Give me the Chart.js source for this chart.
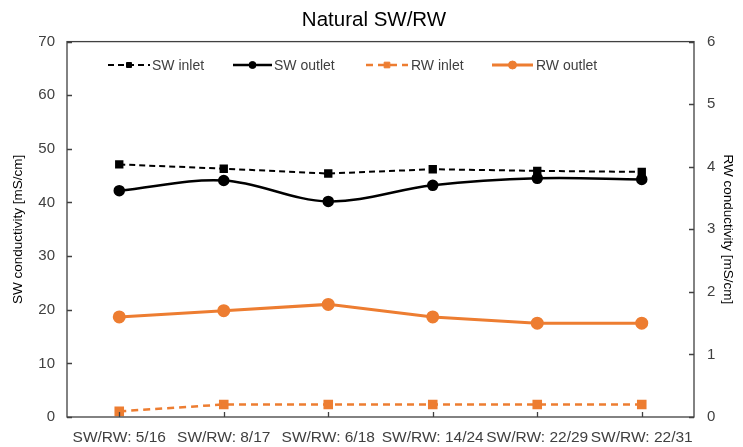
<!DOCTYPE html>
<html>
<head>
<meta charset="utf-8">
<script src="https://cdn.jsdelivr.net/npm/chart.js@4"></script>
<style>
  html, body { margin: 0; padding: 0; background: #fff; }
  #wrap { width: 743px; height: 447px; }
</style>
</head>
<body>
<div id="wrap"><canvas id="chart" width="743" height="447"></canvas></div>
<script>
const categories = ['SW/RW: 5/16', 'SW/RW: 8/17', 'SW/RW: 6/18', 'SW/RW: 14/24', 'SW/RW: 22/29', 'SW/RW: 22/31'];
const swInlet = [47.1, 46.3, 45.4, 46.2, 45.9, 45.7];
const swOutlet = [42.2, 44.1, 40.2, 43.2, 44.5, 44.3];
const rwInlet = [0.09, 0.2, 0.2, 0.2, 0.2, 0.2];
const rwOutlet = [1.6, 1.7, 1.8, 1.6, 1.5, 1.5];
const swTicks = [0, 10, 20, 30, 40, 50, 60, 70];
const rwTicks = [0, 1, 2, 3, 4, 5, 6];

const orange = '#ED7D31';
const textColor = '#404040';
const font = 'Liberation Sans, Arial, sans-serif';

// frame, inward tick marks and a legend drawn inside the plot box
const framePlugin = {
  id: 'frame',
  afterDraw(chart) {
    const ctx = chart.ctx;
    const a = chart.chartArea;
    ctx.save();
    ctx.strokeStyle = '#404040';
    ctx.lineWidth = 1.3;
    ctx.strokeRect(a.left, a.top, a.right - a.left, a.bottom - a.top);
    ctx.beginPath();
    const y1 = chart.scales.y1, y2 = chart.scales.y2, x = chart.scales.x;
    y1.ticks.forEach((t, i) => {
      const py = Math.round(y1.getPixelForTick(i)) + 0.5;
      ctx.moveTo(a.left, py); ctx.lineTo(a.left + 5, py);
    });
    y2.ticks.forEach((t, i) => {
      const py = Math.round(y2.getPixelForTick(i)) + 0.5;
      ctx.moveTo(a.right, py); ctx.lineTo(a.right - 5, py);
    });
    x.ticks.forEach((t, i) => {
      const px = Math.round(x.getPixelForTick(i)) + 0.5;
      ctx.moveTo(px, a.bottom); ctx.lineTo(px, a.bottom - 5);
    });
    ctx.stroke();

    // legend
    const items = [[108, 150, 152], [233, 272, 274], [366, 408, 411], [492, 533, 536]];
    const ly = 65;
    chart.data.datasets.forEach((ds, i) => {
      const [x0, x1, tx] = items[i];
      ctx.beginPath();
      ctx.setLineDash(ds.borderDash || []);
      ctx.strokeStyle = ds.borderColor;
      ctx.lineWidth = ds.borderWidth;
      ctx.moveTo(x0, ly); ctx.lineTo(x1, ly);
      ctx.stroke();
      ctx.setLineDash([]);
      ctx.fillStyle = ds.pointBackgroundColor;
      ctx.strokeStyle = ds.pointBorderColor;
      ctx.lineWidth = 1;
      Chart.helpers.drawPoint(ctx, {
        pointStyle: ds.pointStyle, radius: ds.pointRadius - 1, borderWidth: 1
      }, (x0 + x1) / 2, ly);
      ctx.fillStyle = textColor;
      ctx.font = '14px ' + font;
      ctx.textBaseline = 'middle';
      ctx.textAlign = 'left';
      ctx.fillText(ds.label, tx, ly + 1);
    });
    ctx.restore();
  }
};

new Chart(document.getElementById('chart').getContext('2d'), {
  type: 'line',
  data: {
    labels: categories,
    datasets: [
      {
        label: 'SW inlet', data: swInlet, yAxisID: 'y1',
        borderColor: '#000', borderWidth: 2, borderDash: [6, 4],
        pointStyle: 'rect', pointRadius: 4.5,
        pointBackgroundColor: '#000', pointBorderColor: '#000', tension: 0
      },
      {
        label: 'SW outlet', data: swOutlet, yAxisID: 'y1',
        borderColor: '#000', borderWidth: 2.5,
        pointStyle: 'circle', pointRadius: 4.5,
        pointBackgroundColor: '#000', pointBorderColor: '#000', tension: 0.35
      },
      {
        label: 'RW inlet', data: rwInlet, yAxisID: 'y2',
        borderColor: orange, borderWidth: 2.5, borderDash: [7, 5],
        pointStyle: 'rect', pointRadius: 5,
        pointBackgroundColor: orange, pointBorderColor: orange, tension: 0
      },
      {
        label: 'RW outlet', data: rwOutlet, yAxisID: 'y2',
        borderColor: orange, borderWidth: 3,
        pointStyle: 'circle', pointRadius: 5,
        pointBackgroundColor: orange, pointBorderColor: orange, tension: 0
      }
    ]
  },
  options: {
    responsive: false,
    animation: false,
    layout: { padding: { left: 10, right: 5, top: 0, bottom: 0 } },
    plugins: {
      legend: { display: false },
      tooltip: { enabled: false },
      title: {
        display: true,
        text: 'Natural SW/RW',
        color: '#000',
        font: { family: font, size: 20.5, weight: 'normal' },
        padding: { top: 8, bottom: 9 }
      }
    },
    scales: {
      x: {
        offset: true,
        grid: { display: false, drawTicks: false, offset: true },
        border: { display: false },
        ticks: {
          color: textColor, autoSkip: false, maxRotation: 0, padding: 11,
          font: { family: font, size: 15.5 }
        },
        afterFit(s) { s.height = 30; }
      },
      y1: {
        position: 'left', min: 0, max: 70,
        afterBuildTicks(s) { s.ticks = swTicks.map(v => ({ value: v })); },
        grid: { display: false, drawTicks: false },
        border: { display: false },
        ticks: { color: textColor, padding: 12, font: { family: font, size: 15 } },
        title: {
          display: true, text: 'SW conductivity [mS/cm]', color: '#000',
          font: { family: font, size: 13.5 }, padding: { top: 0, bottom: 6 }
        },
        afterFit(s) { s.width = 57; }
      },
      y2: {
        position: 'right', min: 0, max: 6,
        afterBuildTicks(s) { s.ticks = rwTicks.map(v => ({ value: v })); },
        grid: { display: false, drawTicks: false },
        border: { display: false },
        ticks: { color: textColor, padding: 13, font: { family: font, size: 15 } },
        title: {
          display: true, text: 'RW conductivity [mS/cm]', color: '#000',
          font: { family: font, size: 13.5 }, padding: { top: 2, bottom: 0 }
        },
        afterFit(s) { s.width = 44; }
      }
    }
  },
  plugins: [framePlugin]
});
</script>
</body>
</html>
